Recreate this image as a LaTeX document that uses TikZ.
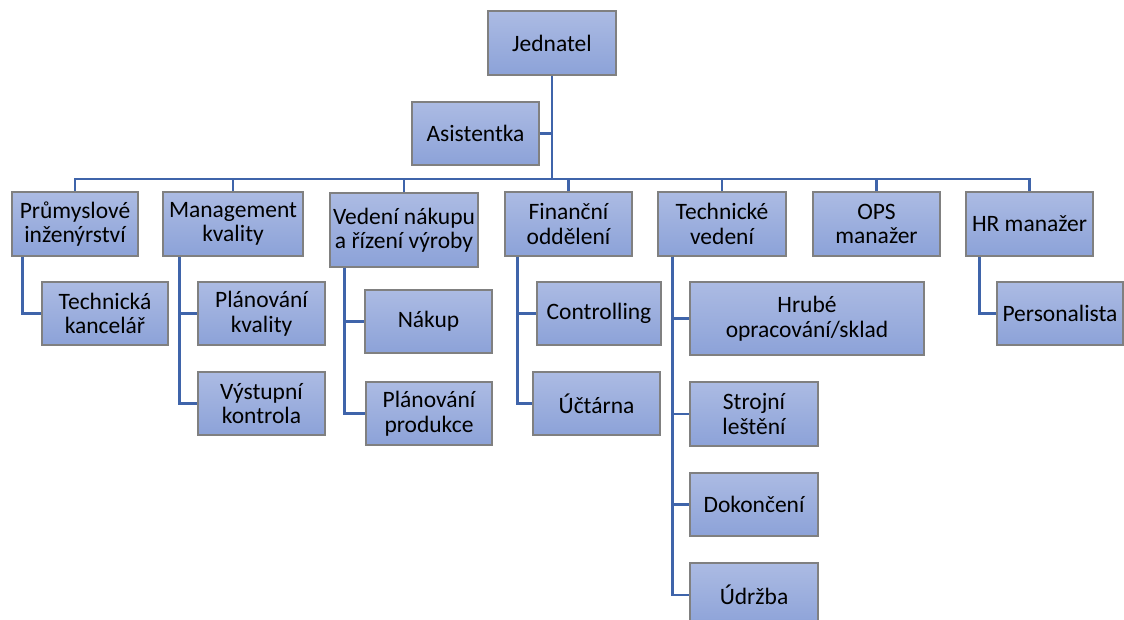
\documentclass[tikz,border=0pt]{standalone}
\usepackage{fontspec}
\setmainfont{Carlito}
\usepackage{tikz}
\usetikzlibrary{positioning}
\definecolor{boxtop}{HTML}{ACBBE3}
\definecolor{boxbot}{HTML}{8CA2D8}
\definecolor{boxline}{HTML}{808080}
\definecolor{conline}{HTML}{3F64AA}
\tikzset{unit/.style = {rectangle, draw = boxline, line width = 1.1pt,
                        top color = boxtop, bottom color = boxbot,
                        align = center, inner sep = 0pt,
                        font = \fontsize{23.5}{24.5}\selectfont}}
\tikzset{conn/.style = {draw = conline, line width = 2.6pt}}

\begin{document}
\begin{tikzpicture}[x=1pt, y=-1pt]
    \useasboundingbox (0, 0) rectangle (1124, 620);
    \clip (0, 0) rectangle (1124, 620);

    \node [unit, minimum width = 128, minimum height = 64] (jed) at (552, 43) {Jednatel};
    \node [unit, minimum width = 127, minimum height = 63] (asis) at (475.5, 133.5) {Asistentka};
    \coordinate (bus) at (552, 179);

    \node [unit, minimum width = 126, minimum height = 64] (prum) at (75, 224) {Průmyslové\\inženýrství};
    \node [unit, minimum width = 140, minimum height = 64] (man) at (233, 224) {Management\\kvality};
    \node [unit, minimum width = 148, minimum height = 74] (ved) at (404, 230) {Vedení nákupu\\a řízení výroby};
    \node [unit, minimum width = 127, minimum height = 64] (fin) at (568.5, 224) {Finanční\\oddělení};
    \node [unit, minimum width = 128, minimum height = 64] (tech) at (722, 224) {Technické\\vedení};
    \node [unit, minimum width = 127, minimum height = 64] (ops) at (876.5, 224) {OPS\\manažer};
    \node [unit, minimum width = 127, minimum height = 64] (hr) at (1029.5, 224) {HR manažer};

    \node [unit, minimum width = 126, minimum height = 63] (tk) at (105, 313.5) {Technická\\kancelář};
    \node [unit, minimum width = 127, minimum height = 63] (pk) at (261.5, 313.5) {Plánování\\kvality};
    \node [unit, minimum width = 127, minimum height = 63] (vk) at (261.5, 403.5) {Výstupní\\kontrola};
    \node [unit, minimum width = 127, minimum height = 63] (nak) at (428.5, 321.5) {Nákup};
    \node [unit, minimum width = 126, minimum height = 63] (pp) at (429, 413.5) {Plánování\\produkce};
    \node [unit, minimum width = 124, minimum height = 63] (con) at (599, 313.5) {Controlling};
    \node [unit, minimum width = 127, minimum height = 63] (uct) at (596.5, 403.5) {Účtárna};
    \node [unit, minimum width = 234, minimum height = 73] (hrub) at (807, 318.5) {Hrubé\\opracování/sklad};
    \node [unit, minimum width = 128, minimum height = 64] (stro) at (754, 414) {Strojní\\leštění};
    \node [unit, minimum width = 128, minimum height = 63] (dok) at (754, 504.5) {Dokončení};
    \node [unit, minimum width = 128, minimum height = 64] (udr) at (754, 595) {Údržba};
    \node [unit, minimum width = 126, minimum height = 63] (pers) at (1060, 313.5) {Personalista};

    \draw [conn] (jed.south) -- (bus);
    \draw [conn] (asis.east) -- (asis.east -| bus);
    \draw [conn] (prum.north) |- (bus) -| (hr.north);
    \foreach \n in {man, ved, fin, tech, ops}
        \draw [conn] (\n.north) -- (\n.north |- bus);

    \draw [conn] ([xshift=11pt]prum.south west) |- (tk.west);
    \foreach \c in {pk, vk}
        \draw [conn] ([xshift=17pt]man.south west) |- (\c.west);
    \foreach \c in {nak, pp}
        \draw [conn] ([xshift=15pt]ved.south west) |- (\c.west);
    \foreach \c in {con, uct}
        \draw [conn] ([xshift=13pt]fin.south west) |- (\c.west);
    \foreach \c in {hrub, stro, dok, udr}
        \draw [conn] ([xshift=15pt]tech.south west) |- (\c.west);
    \draw [conn] ([xshift=14pt]hr.south west) |- (pers.west);
  \end{tikzpicture}
\end{document}
